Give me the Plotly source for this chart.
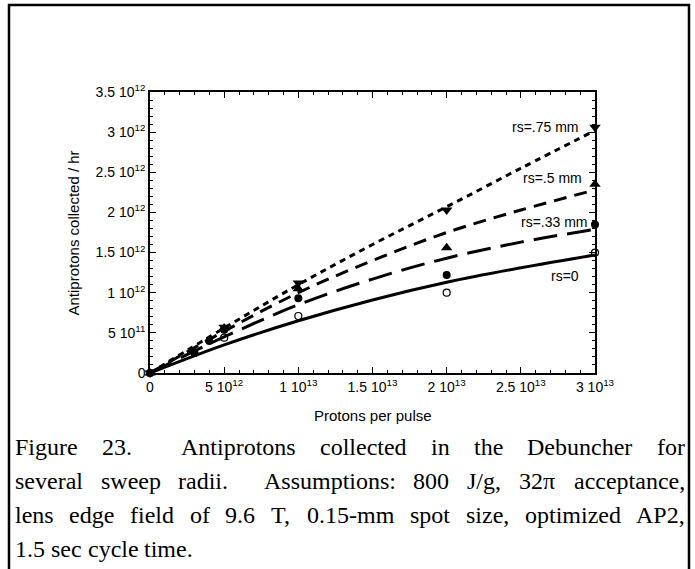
import re
import plotly.graph_objects as go

# measured points (protons per pulse vs antiprotons collected / hr)
x_meas = [0, 5e12, 1e13, 2e13, 3e13]
rs0_pts = [0, 0.44e12, 0.71e12, 1.00e12, 1.50e12]
rs05_pts = [0, 0.56e12, 1.05e12, 1.56e12, 2.35e12]
rs075_pts = [0, 0.57e12, 1.12e12, 2.03e12, 3.06e12]
x_meas033 = [0, 3e12, 4e12, 5e12, 1e13, 2e13, 3e13]
rs033_pts = [0, 0.25e12, 0.40e12, 0.54e12, 0.93e12, 1.22e12, 1.85e12]

# fitted curves
x_fit = [0, 5e12, 1e13, 1.5e13, 2e13, 2.5e13, 3e13]
rs0_fit = [0, 0.35e12, 0.65e12, 0.91e12, 1.13e12, 1.31e12, 1.47e12]
rs033_fit = [0, 0.45e12, 0.85e12, 1.17e12, 1.43e12, 1.63e12, 1.79e12]
rs05_fit = [0, 0.52e12, 1.00e12, 1.40e12, 1.75e12, 2.03e12, 2.28e12]
rs075_fit = [0, 0.56e12, 1.10e12, 1.60e12, 2.07e12, 2.55e12, 3.02e12]

x_tickvals = [0, 5e12, 1e13, 1.5e13, 2e13, 2.5e13, 3e13]
x_ticktext = ["0", "5 10<sup>12</sup>", "1 10<sup>13</sup>", "1.5 10<sup>13</sup>",
              "2 10<sup>13</sup>", "2.5 10<sup>13</sup>", "3 10<sup>13</sup>"]
y_tickvals = [0, 0.5e12, 1e12, 1.5e12, 2e12, 2.5e12, 3e12, 3.5e12]
y_ticktext = ["0", "5 10<sup>11</sup>", "1 10<sup>12</sup>", "1.5 10<sup>12</sup>",
              "2 10<sup>12</sup>", "2.5 10<sup>12</sup>", "3 10<sup>12</sup>",
              "3.5 10<sup>12</sup>"]

caption_lines = [
    "Figure 23.  Antiprotons collected in the Debuncher for",
    "several sweep radii.  Assumptions: 800 J/g, 32\u03c0 acceptance,",
    "lens edge field of 9.6 T, 0.15-mm spot size, optimized AP2,",
    "1.5 sec cycle time.",
]

W, H = 695, 569
L, R, T, B = 150, 595, 92, 373
PW, PH = R - L, B - T


def px(x):
    return (x - L) / PW


def py(y):
    return (B - y) / PH


# approximate Times widths (per 1000 em) for caption justification
TIMES_W = {
    "a": 444, "b": 500, "c": 444, "d": 500, "e": 444, "f": 333, "g": 500, "h": 500,
    "i": 278, "j": 278, "k": 500, "l": 278, "m": 778, "n": 500, "o": 500, "p": 500,
    "q": 500, "r": 333, "s": 389, "t": 278, "u": 500, "v": 500, "w": 722, "x": 500,
    "y": 500, "z": 444, "F": 556, "D": 722, "A": 722, "P": 556, "T": 611, "J": 389,
    ".": 250, ",": 250, " ": 250, "-": 333, "/": 278, ":": 278, "\u03c0": 549,
}


def text_w(s, size):
    return sum(TIMES_W.get(c, 500) for c in s) / 1000 * size


fig = go.Figure()

line_w = 3
fig.add_trace(go.Scatter(x=x_fit, y=rs0_fit, mode="lines", line_shape="spline",
                         line=dict(color="black", width=line_w)))
fig.add_trace(go.Scatter(x=x_fit, y=rs033_fit, mode="lines", line_shape="spline",
                         line=dict(color="black", width=line_w, dash="24px,10px")))
fig.add_trace(go.Scatter(x=x_fit, y=rs05_fit, mode="lines", line_shape="spline",
                         line=dict(color="black", width=line_w, dash="13px,8px")))
fig.add_trace(go.Scatter(x=x_fit, y=rs075_fit, mode="lines", line_shape="spline",
                         line=dict(color="black", width=line_w, dash="6px,5px")))

fig.add_trace(go.Scatter(x=x_meas, y=rs0_pts, mode="markers", cliponaxis=False,
                         marker=dict(symbol="circle-open", size=7, color="black",
                                     line=dict(width=1.2))))
fig.add_trace(go.Scatter(x=x_meas033, y=rs033_pts, mode="markers", cliponaxis=False,
                         marker=dict(symbol="circle", size=8, color="black")))
fig.add_trace(go.Scatter(x=x_meas, y=rs05_pts, mode="markers", cliponaxis=False,
                         marker=dict(symbol="triangle-up", size=10, color="black")))
fig.add_trace(go.Scatter(x=x_meas, y=rs075_pts, mode="markers", cliponaxis=False,
                         marker=dict(symbol="triangle-down", size=10, color="black")))

tick_font = dict(family="Liberation Sans, Arial", size=14, color="black")
label_font = dict(family="Liberation Sans, Arial", size=14, color="black")
title_font = dict(family="Liberation Sans, Arial", size=15, color="black")
common = dict(showgrid=False, zeroline=False, showline=True, linecolor="black",
              linewidth=1.5, mirror="allticks", ticks="inside", ticklen=6,
              tickcolor="black", tickwidth=1, tickfont=tick_font)

fig.update_xaxes(range=[0, 3e13], tickvals=x_tickvals, ticktext=x_ticktext,
                 minor=dict(dtick=1e12, ticks="inside", ticklen=3, tickcolor="black"),
                 **common)
fig.update_yaxes(range=[0, 3.5e12], tickvals=y_tickvals, ticktext=y_ticktext,
                 minor=dict(dtick=1e11, ticks="inside", ticklen=3, tickcolor="black"),
                 **common)

annotations = [
    dict(x=px(62), y=py(233), text="Antiprotons collected / hr", textangle=-90,
         font=title_font),
    dict(x=px(373), y=py(415), text="Protons per pulse", font=title_font),
    dict(x=px(581), y=py(127), text="rs=.75 mm", xanchor="right", font=label_font),
    dict(x=px(584), y=py(178), text="rs=.5 mm", xanchor="right", font=label_font),
    dict(x=px(590), y=py(222), text="rs=.33 mm", xanchor="right", font=label_font),
    dict(x=px(581), y=py(276), text="rs=0", xanchor="right", font=label_font),
]

# caption, justified word by word
cap_size = 24
cap_font = dict(family="Liberation Serif, Times New Roman", size=cap_size, color="black")
left_x, right_x = 13, 683
line_y = [447, 481, 515, 549]
for i, line in enumerate(caption_lines):
    parts = re.split(r"( +)", line)
    words = parts[0::2]
    spaces = parts[1::2]
    if i < len(caption_lines) - 1:
        free = (right_x - left_x) - sum(text_w(w, cap_size) for w in words)
        unit = free / sum(len(s) for s in spaces)
    else:
        unit = text_w(" ", cap_size)
    xpos = left_x
    for j, w in enumerate(words):
        annotations.append(dict(x=px(xpos), y=py(line_y[i]), text=w, xanchor="left",
                                font=cap_font))
        xpos += text_w(w, cap_size)
        if j < len(spaces):
            xpos += unit * len(spaces[j])

for a in annotations:
    a.setdefault("xref", "paper")
    a.setdefault("yref", "paper")
    a.setdefault("showarrow", False)
    a.setdefault("yanchor", "middle")

shapes = [
    dict(type="rect", xref="paper", yref="paper", x0=px(9), x1=px(689),
         y0=py(580), y1=py(5), line=dict(color="black", width=2.5)),
]

fig.update_layout(
    width=W, height=H,
    margin=dict(l=L, r=W - R, t=T, b=H - B),
    plot_bgcolor="white", paper_bgcolor="white",
    showlegend=False,
    annotations=annotations,
    shapes=shapes,
)

# drop the browser's default body margin so the figure fills the window
fig.write_html("out.html", config={"displayModeBar": False},
               post_script="document.body.style.margin='0';"
                           "document.body.style.overflow='hidden';")
